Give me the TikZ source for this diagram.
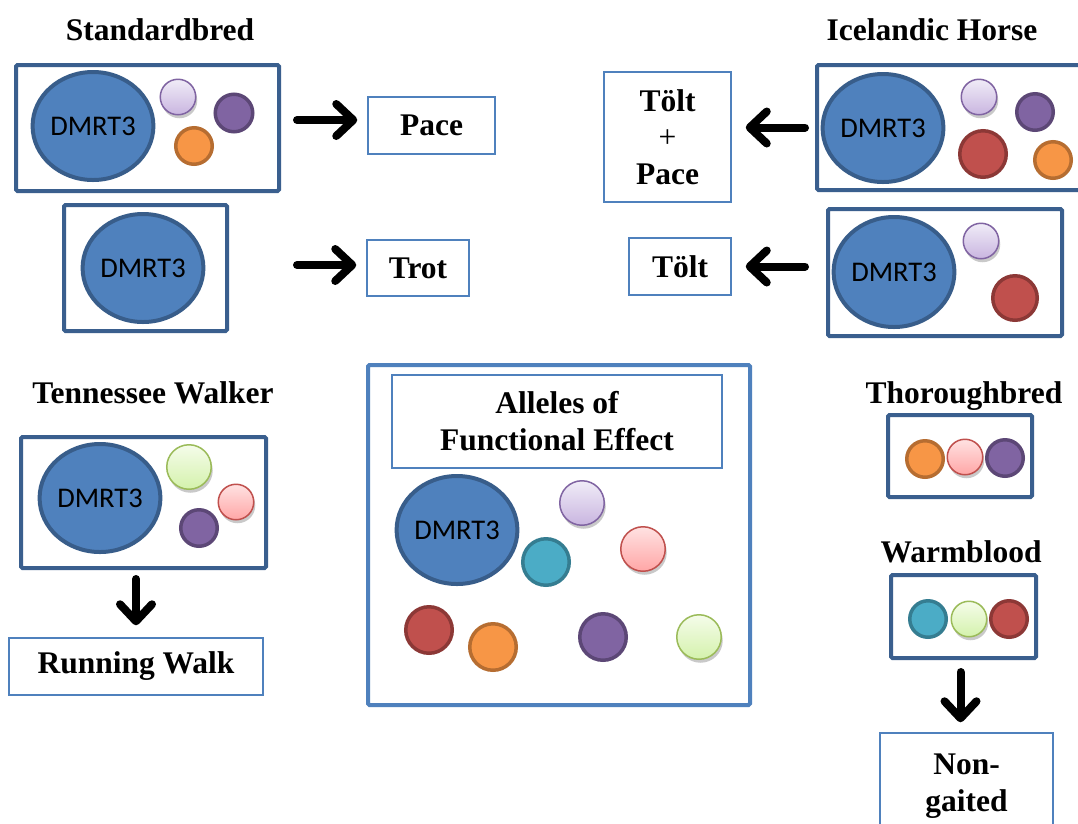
\documentclass[tikz,border=0pt]{standalone}
\usepackage{fontspec}
\setmainfont{Liberation Serif}
\newfontfamily\calib{Carlito}
\usetikzlibrary{shapes.geometric,arrows.meta,shadows}
\definecolor{boxdark}{HTML}{3A5F8E}
\definecolor{boxlight}{HTML}{4F81BD}
\definecolor{genefill}{HTML}{4F81BD}
\definecolor{geneline}{HTML}{385D8A}
\definecolor{purpf}{HTML}{8064A2}\definecolor{purpl}{HTML}{5C4776}
\definecolor{orangf}{HTML}{F79646}\definecolor{orangl}{HTML}{B66D31}
\definecolor{redf}{HTML}{C0504D}\definecolor{redl}{HTML}{8C3836}
\definecolor{tealf}{HTML}{4BACC6}\definecolor{teall}{HTML}{357D91}
\definecolor{lavtop}{HTML}{F0ECF7}\definecolor{lavbot}{HTML}{C9B5E0}\definecolor{lavl}{HTML}{8064A2}
\definecolor{pinktop}{HTML}{FFE2E2}\definecolor{pinkbot}{HTML}{FFA6A6}\definecolor{pinkl}{HTML}{C0504D}
\definecolor{limetop}{HTML}{F5FCEA}\definecolor{limebot}{HTML}{D4F2AC}\definecolor{limel}{HTML}{9BBB59}
\tikzset{
  breedbox/.style={draw=boxdark, line width=4pt, rectangle, rounded corners=1.5pt, inner sep=0pt},
  centerbox/.style={draw=boxlight, line width=4pt, rectangle, rounded corners=1.5pt, inner sep=0pt},
  gaitbox/.style={draw=boxlight, line width=1.5pt, fill=white, rectangle, inner sep=0pt,
     font=\fontsize{31.5}{37}\selectfont\bfseries, align=center},
  breedtitle/.style={anchor=base, inner sep=0pt, font=\fontsize{31.5}{37}\selectfont\bfseries},
  gene/.style={ellipse, draw=geneline, fill=genefill, line width=4pt, inner sep=0pt,
     minimum width=116pt, minimum height=108pt, font=\calib\fontsize{28.5}{32}\selectfont},
  solidball/.style 2 args={circle, draw=#1, fill=#2, line width=3.5pt, inner sep=0pt},
  purpb/.style={solidball={purpl}{purpf}, minimum size=#1},
  orangb/.style={solidball={orangl}{orangf}, minimum size=#1},
  redb/.style={solidball={redl}{redf}, minimum size=#1},
  tealb/.style={solidball={teall}{tealf}, minimum size=#1},
  softball/.style={circle, line width=1.5pt, inner sep=0pt,
     drop shadow={shadow xshift=1.5pt, shadow yshift=-3.5pt, opacity=0.35, fill=black!60}},
  lavb/.style={softball, draw=lavl, top color=lavtop, bottom color=lavbot, minimum size=#1},
  pinkb/.style={softball, draw=pinkl, top color=pinktop, bottom color=pinkbot, minimum size=#1},
  limeb/.style={softball, draw=limel, top color=limetop, bottom color=limebot, minimum size=#1},
  fatarrow/.style={line width=8pt, line cap=round, black,
     -{Straight Barb[length=17pt, width=32pt, line cap=round, line join=round]}}
}
\begin{document}
\begin{tikzpicture}[x=1pt,y=-1pt]
\clip (0,0) rectangle (1078,823);
\fill[white] (0,0) rectangle (1078,823);

% ---------- titles ----------
\node[breedtitle] (t1) at (160,40) {Standardbred};
\node[breedtitle] (t2) at (932,40) {Icelandic Horse};
\node[breedtitle] (t3) at (153,403) {Tennessee Walker};
\node[breedtitle] (t4) at (964,403) {Thoroughbred};
\node[breedtitle] (t5) at (961,562) {Warmblood};

% ---------- Standardbred ----------
\node[breedbox, minimum width=263pt, minimum height=126pt] (sb1) at (147.5,128) {};
\node[gene] (g1) at (93,126) {DMRT3};
\node[lavb=35.5pt] (sb1a) at (178,97) {};
\node[purpb=37.5pt] (sb1b) at (234,113) {};
\node[orangb=36.5pt] (sb1c) at (194,146) {};

\node[breedbox, minimum width=163pt, minimum height=126pt] (sb2) at (145.5,268) {};
\node[gene] (g2) at (143,268) {DMRT3};

\node[gaitbox, minimum width=127pt, minimum height=57pt] (pace) at (431.5,125.5) {Pace};
\node[gaitbox, minimum width=102pt, minimum height=56pt] (trot) at (418,268) {Trot};

\coordinate (pa) at (pace.west |- 0,120);
\coordinate (ta) at (trot.west |- 0,265);
\draw[fatarrow, shorten <=16pt, shorten >=10pt] (sb1.east |- pa) -- (pa);
\draw[fatarrow, shorten <=16pt, shorten >=10pt] (sb1.east |- ta) -- (ta);

% ---------- Icelandic Horse ----------
\node[breedbox, minimum width=273pt, minimum height=125pt] (ic1) at (953.5,127.5) {};
\node[gene] (g3) at (883,128) {DMRT3};
\node[lavb=35.5pt] (ic1a) at (979,97) {};
\node[purpb=36.5pt] (ic1b) at (1035,112) {};
\node[redb=46.5pt] (ic1c) at (983,154) {};
\node[orangb=36.5pt] (ic1d) at (1053,160) {};

\node[breedbox, minimum width=234pt, minimum height=127pt] (ic2) at (945,272.5) {};
\node[gene, minimum width=118pt, minimum height=110pt] (g4) at (894,272) {DMRT3};
\node[lavb=35.5pt] (ic2a) at (981,241) {};
\node[redb=44.5pt] (ic2b) at (1015,298) {};

\node[gaitbox, minimum width=127pt, minimum height=130pt] (tp) at (667.5,137) {Tölt\\[-1pt]{\mdseries +}\\Pace};
\node[gaitbox, minimum width=102pt, minimum height=57pt] (tolt) at (680,266.5) {Tölt};

\draw[fatarrow, shorten <=10pt, shorten >=14pt] (ic1.west) -- (tp.east |- ic1.west);
\draw[fatarrow, shorten <=10pt, shorten >=14pt] (ic1.west |- tolt.east) -- (tolt.east);

% ---------- Tennessee Walker ----------
\node[breedbox, minimum width=245pt, minimum height=131pt] (tw) at (143.5,502.5) {};
\node[gene] (g5) at (100,498) {DMRT3};
\node[limeb=44.5pt] (twa) at (189,467) {};
\node[pinkb=35.5pt] (twb) at (236,502) {};
\node[purpb=36.5pt] (twc) at (199,528) {};

\node[gaitbox, minimum width=254pt, minimum height=57pt] (rw) at (136,666.5) {Running Walk};
\draw[fatarrow, shorten <=9pt, shorten >=12pt] (tw.south -| rw.north) -- (rw.north);

% ---------- Alleles of Functional Effect ----------
\node[centerbox, minimum width=382pt, minimum height=340pt] (all) at (559,535) {};
\node[gaitbox, minimum width=330pt, minimum height=93pt] (aoe) at (557,421.5) {Alleles of\\Functional Effect};
\node[gene] (g6) at (457,530) {DMRT3};
\node[lavb=44.5pt] (ca) at (582,503) {};
\node[tealb=46.5pt] (cb) at (546,562) {};
\node[pinkb=44.5pt] (cc) at (643,549) {};
\node[redb=46.5pt] (cd) at (429,630) {};
\node[orangb=46.5pt] (ce) at (493,647) {};
\node[purpb=46.5pt] (cf) at (603,637) {};
\node[limeb=44.5pt] (cg) at (699,637) {};

% ---------- Thoroughbred ----------
\node[breedbox, minimum width=144pt, minimum height=82pt] (tb) at (960,456) {};
\node[orangb=36.5pt] (tba) at (925,459) {};
\node[pinkb=35.5pt] (tbb) at (965,457) {};
\node[purpb=36.5pt] (tbc) at (1005,458) {};

% ---------- Warmblood ----------
\node[breedbox, minimum width=145pt, minimum height=83pt] (wb) at (963.5,616.5) {};
\node[tealb=36.5pt] (wba) at (928,619) {};
\node[limeb=35.5pt] (wbb) at (969,619) {};
\node[redb=36.5pt] (wbc) at (1009,619) {};

\node[gaitbox, minimum width=173pt, minimum height=107pt] (ng) at (966.5,786.5) {Non-\\gaited};
\draw[fatarrow, shorten <=12pt, shorten >=10pt] ([xshift=-3pt]wb.south) -- ([xshift=-3pt]wb.south |- ng.north);
\end{tikzpicture}
\end{document}
